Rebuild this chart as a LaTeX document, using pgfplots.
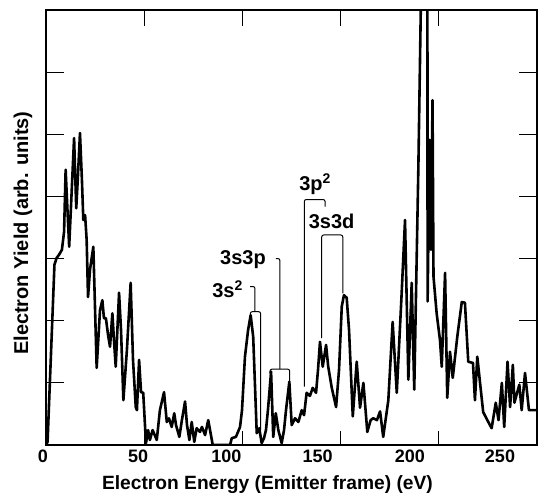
\documentclass[border=0pt]{standalone}
\usepackage{fontspec}
\setmainfont{Liberation Sans}
\usepackage{pgfplots}
\pgfplotsset{compat=1.18}
\usepackage{pgfplotstable}

% electron yield spectrum (energy in eV, yield in arbitrary units)
\pgfplotstableread{
x y
0 0
0.8 0.05
4.3 2.90
5.4 3.01
6.6 3.06
8.1 3.14
9.2 3.43
10.0 4.43
10.7 3.94
11.8 3.19
14.3 4.94
15.4 3.81
16.3 4.35
17.3 5.02
18.3 4.26
19.0 3.62
19.9 3.70
20.7 3.30
21.4 2.38
22.4 2.82
24.1 3.19
25.8 1.24
27.5 2.17
28.7 2.33
29.5 2.04
30.5 2.04
31.6 1.77
32.6 1.58
33.8 2.12
34.6 1.69
35.5 1.26
37.2 2.45
38.2 1.85
39.4 0.72
41.2 1.53
43.1 2.61
44.3 1.37
45.7 0.61
46.3 0.56
47.4 1.37
48.4 0.85
49.5 0.84
50.9 0.03
52.0 0.24
52.9 0.08
54.3 0.24
56.4 0.08
58.0 0.56
60.1 0.85
61.5 0.37
62.6 0.43
64.0 0.29
65.3 0.51
66.2 0.32
67.9 0.13
69.2 0.40
70.8 0.70
71.8 0.32
73.0 0.08
74.2 0.37
75.5 0.05
76.7 0.27
78.4 0.21
79.4 0.29
81.0 0.16
82.6 0.40
84.9 0
93.7 0
94.6 0.11
96.7 0.13
98.8 0.29
99.8 0.56
101.3 1.42
102.9 1.85
104.2 2.09
105.5 1.74
107.3 0.19
108.6 0.27
109.8 0.03
111.0 0.11
112.0 0.24
113.0 0.56
114.6 1.18
115.7 0.13
117.0 0.51
118.3 0.24
120.0 0.03
121.2 0.24
122.2 0.56
123.9 1.02
125.1 0.32
126.8 0.43
128.5 0.37
130.2 0.56
131.4 0.48
132.7 0.84
134.4 0.79
135.8 0.92
137.5 0.84
138.5 1.21
139.5 1.66
140.9 1.26
142.6 1.61
143.7 1.26
145.5 0.92
147.7 0.61
149.2 1.21
150.6 2.23
151.7 2.41
153.1 2.37
154.3 1.85
156.2 0.46
158.2 1.34
159.9 0.60
161.6 1.00
163.6 0.21
165.3 0.40
166.6 0.43
168.5 0.40
170.1 0.54
171.7 0.13
174.3 0.72
176.5 1.98
178.6 0.84
181.1 2.45
182.8 3.62
184.5 1.05
186.2 2.61
187.5 0.89
189.6 4.48
190.9 7.16
192.4 8.5
194.2 7.3
194.3 2.31
195.3 4.91
196.0 3.14
196.8 5.55
197.3 2.71
198.9 2.12
200.6 1.69
201.5 1.26
203.2 2.77
204.3 0.76
205.7 1.50
207.1 1.08
209.4 1.74
211.7 2.30
213.3 2.29
215.0 1.34
217.4 1.32
218.4 0.72
219.6 1.42
221.0 1.00
222.6 0.53
224.7 0.40
226.9 0.27
229.0 0.68
230.4 0.40
232.1 1.00
233.3 0.29
235.0 1.34
236.3 0.61
237.7 1.29
238.5 0.68
241.0 0.97
242.2 0.56
243.9 1.16
245.9 0.56
250 0.56
}\spectrum

% tick label nudged to the left by #1/2
\newcommand\shiftlbl[2]{\makebox[0pt]{#2\hspace*{#1}}}

\begin{document}
\begin{tikzpicture}
\begin{axis}[
  scale only axis,
  width=491pt, height=435pt,
  xmin=0, xmax=250, ymin=0, ymax=7,
  xtick={0,50,100,150,200,250},
  xticklabels={\shiftlbl{6pt}{0},\shiftlbl{12pt}{50},\shiftlbl{32pt}{100},\shiftlbl{46pt}{150},\shiftlbl{58pt}{200},\shiftlbl{74pt}{250}},
  ytick={1,2,3,4,5,6},
  yticklabels={},
  xtick pos=both, ytick pos=both,
  tick align=inside,
  major tick length=18pt,
  xtick style={draw=none},
  ytick style={line width=1.2pt, black},
  axis line style={line width=1.4pt},
  xticklabel style={font=\fontsize{18}{20}\selectfont\bfseries, yshift=-1pt},
  xlabel={Electron Energy (Emitter frame) (eV)},
  ylabel={Electron Yield (arb. units)},
  every axis x label/.style={at={(axis description cs:0.451,-0.09)}, anchor=center, font=\fontsize{19.2}{22}\selectfont\bfseries},
  every axis y label/.style={at={(axis description cs:-0.047,0.487)}, anchor=center, rotate=90, font=\fontsize{20}{22}\selectfont\bfseries},
]
\addplot[black, line width=2.6pt, line join=round] table[x=x, y=y] {\spectrum};

% transition brackets
\begin{scope}[line width=1pt, rounded corners=2pt]
  % 3s^2
  \draw (axis cs:103.9,2.55) -- (axis cs:106.4,2.55) -- (axis cs:106.4,2.145);
  \draw (axis cs:104.0,2.05) -- (axis cs:104.0,2.145) -- (axis cs:109.3,2.145) -- (axis cs:109.3,0.24);
  % 3s3p
  \draw (axis cs:117.1,3.0) -- (axis cs:119.1,3.0) -- (axis cs:119.1,1.22);
  \draw (axis cs:114.05,1.15) -- (axis cs:114.05,1.22) -- (axis cs:124.1,1.22) -- (axis cs:124.1,1.03);
  % 3p^2
  \draw (axis cs:131.5,0.94) -- (axis cs:131.5,3.95) -- (axis cs:142.1,3.95) -- (axis cs:142.1,3.835);
  % 3s3d
  \draw (axis cs:140.4,1.72) -- (axis cs:140.4,3.38) -- (axis cs:151.1,3.38) -- (axis cs:151.1,2.44);
\end{scope}
\begin{scope}[font=\fontsize{20}{22}\selectfont\bfseries, inner sep=0pt]
  \node[anchor=east] at (axis cs:100.3,2.51) {3s\textsuperscript{2}};
  \node[anchor=east] at (axis cs:112.0,2.99) {3s3p};
  \node at (axis cs:137.0,4.20) {3p\textsuperscript{2}};
  \node at (axis cs:145.4,3.60) {3s3d};
\end{scope}
\coordinate (ll) at (rel axis cs:0,0);
\coordinate (ur) at (rel axis cs:1,1);
\end{axis}
% energy tick marks on the bottom and top frame edges (every 50 eV = 98.2pt)
\foreach \dx in {98.2pt,196.4pt,294.6pt,392.8pt}{
  \draw[line width=1.2pt] ([xshift=\dx]ll) -- ([xshift=\dx,yshift=14pt]ll);
  \draw[line width=1.2pt] ([xshift=\dx-491pt]ur) -- ([xshift=\dx-491pt,yshift=-16pt]ur);
}
\pgfresetboundingbox
\path ([shift={(-46pt,-57pt)}]ll) rectangle ([shift={(22pt,10pt)}]ur);
\end{tikzpicture}
\end{document}
